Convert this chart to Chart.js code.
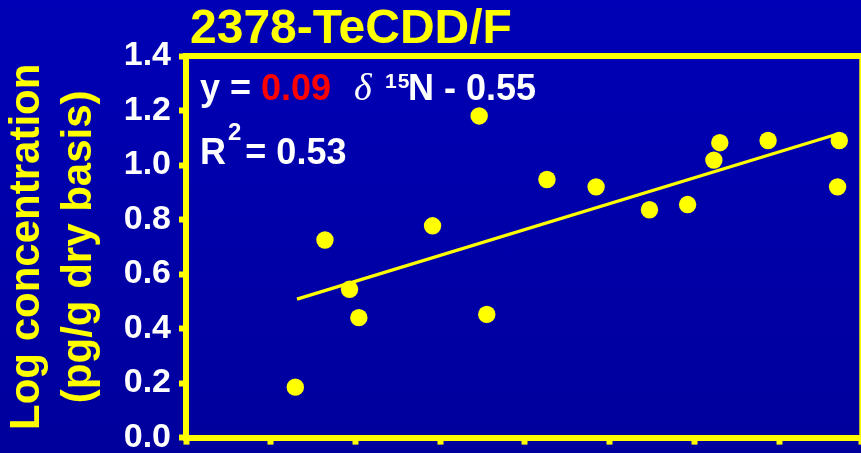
<!DOCTYPE html>
<html><head><meta charset="utf-8">
<script src="https://cdn.jsdelivr.net/npm/chart.js@4/dist/chart.umd.min.js"></script>
<style>
html,body{margin:0;padding:0;overflow:hidden;}
body{width:861px;height:453px;background:linear-gradient(#0000B6,#00009C);}
#wrap{width:861px;height:453px;overflow:hidden;position:relative;}
canvas{display:block;}
</style></head><body>
<div id="wrap"><canvas id="c" width="870" height="466"></canvas></div>
<script>
// ---- data ----
const chartTitle = '2378-TeCDD/F';
const yAxisTitle = ['Log concentration', '(pg/g dry basis)'];
const deltaN15 = [11.29, 11.64, 11.93, 12.04, 12.91, 13.46, 13.55, 14.26, 14.84, 15.47, 15.92, 16.23, 16.30, 16.87, 17.71, 17.69];
const logConc  = [0.185, 0.725, 0.544, 0.440, 0.777, 1.180, 0.452, 0.947, 0.920, 0.836, 0.855, 1.018, 1.082, 1.090, 1.090, 0.920];
const fitX = [11.31, 17.71];
const fitY = [0.508, 1.116];
const yMin = 0, yMax = 1.4, yStep = 0.2;
const xMin = 10, xMax = 17.97, xStep = 1;
const eqPrefix = 'y = ', eqSlope = '0.09', eqDelta = '\u03B4', eqIso = '15', eqVar = 'N', eqIntercept = ' - 0.55';
const r2Label = 'R', r2Sup = '2', r2Value = '= 0.53';

const YELLOW = '#FFFF00', WHITE = '#FFFFFF', RED = '#FF0000';
const FONT = '"Liberation Sans", Arial, sans-serif';

const decor = {
  id: 'decor',
  afterDraw(chart) {
    const {ctx, chartArea: a} = chart;
    ctx.save();
    ctx.strokeStyle = YELLOW; ctx.lineWidth = 6;
    ctx.beginPath(); ctx.moveTo(a.left - 3, a.top); ctx.lineTo(a.right + 5, a.top); ctx.stroke();
    ctx.beginPath(); ctx.moveTo(a.right + 1, a.top - 3); ctx.lineTo(a.right + 1, a.bottom); ctx.stroke();

    ctx.textBaseline = 'alphabetic';
    ctx.fillStyle = YELLOW;
    ctx.font = 'bold 48px ' + FONT;
    ctx.fillText(chartTitle, 190, 43);

    // equation
    let x = a.left + 14, base = a.top + 44;
    ctx.font = 'bold 36px ' + FONT;
    ctx.fillStyle = WHITE; ctx.fillText(eqPrefix, x, base); x += ctx.measureText(eqPrefix).width;
    ctx.fillStyle = RED; ctx.fillText(eqSlope, x, base); x += ctx.measureText(eqSlope).width;
    x = a.left + 168;
    ctx.fillStyle = WHITE;
    ctx.font = 'italic 38px "Liberation Serif", serif';
    ctx.fillText(eqDelta, x, base);
    x = a.left + 199;
    ctx.font = 'bold 21px ' + FONT;
    ctx.letterSpacing = '1px';
    ctx.fillText(eqIso, x, base - 12);
    ctx.letterSpacing = '0px';
    x = a.left + 222;
    ctx.font = 'bold 36px ' + FONT;
    ctx.fillText(eqVar, x, base); x += ctx.measureText(eqVar).width;
    ctx.fillText(eqIntercept, x, base);

    // R^2
    x = a.left + 14; base = a.top + 108;
    ctx.font = 'bold 36px ' + FONT;
    ctx.fillText(r2Label, x, base); x += ctx.measureText(r2Label).width + 2;
    ctx.font = 'bold 24px ' + FONT;
    ctx.fillText(r2Sup, x, base - 24); x += ctx.measureText(r2Sup).width + 4;
    ctx.font = 'bold 36px ' + FONT;
    ctx.fillText(r2Value, x, base);
    ctx.restore();
  }
};

const chart = new Chart(document.getElementById('c'), {
  type: 'scatter',
  data: {
    datasets: [
      {
        type: 'scatter',
        data: deltaN15.map((v, i) => ({x: v, y: logConc[i]})),
        backgroundColor: YELLOW, borderWidth: 0, pointRadius: 8.7, pointHoverRadius: 8.7, order: 0
      },
      {
        type: 'line',
        data: fitX.map((v, i) => ({x: v, y: fitY[i]})),
        borderColor: YELLOW, borderWidth: 3.2, pointRadius: 0, fill: false, order: 1
      }
    ]
  },
  options: {
    responsive: false, animation: false, devicePixelRatio: 1,
    layout: {padding: {top: 56, left: 0, right: 0, bottom: 0}},
    plugins: {legend: {display: false}, tooltip: {enabled: false}, title: {display: false}},
    scales: {
      x: {
        type: 'linear', min: xMin, max: xMax,
        ticks: {display: false, stepSize: xStep},
        grid: {drawOnChartArea: false, drawTicks: true, tickLength: 7, tickWidth: 6, tickColor: YELLOW, color: YELLOW},
        border: {color: YELLOW, width: 6},
        afterFit(s) { s.height = 16; }
      },
      y: {
        type: 'linear', min: yMin, max: yMax,
        ticks: {stepSize: yStep, color: WHITE, padding: 8, font: {family: FONT, size: 34, weight: 'bold'},
                callback: v => Number(v).toFixed(1)},
        grid: {drawOnChartArea: false, drawTicks: true, tickLength: 7, tickWidth: 6, tickColor: YELLOW, color: YELLOW},
        border: {color: YELLOW, width: 6},
        title: {display: true, text: yAxisTitle, color: YELLOW, padding: {top: 1, bottom: 0},
                font: {family: FONT, size: 42, weight: 'bold', lineHeight: 1.25}},
        afterFit(s) { s.width = 186; }
      }
    }
  },
  plugins: [decor]
});
</script>
</body></html>
